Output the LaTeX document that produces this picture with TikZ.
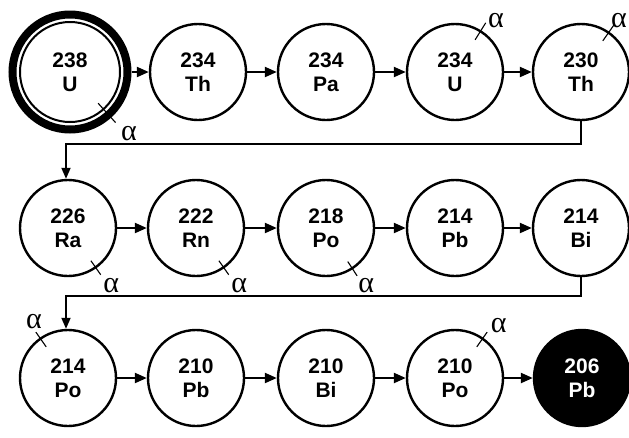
\documentclass[tikz,border=0pt]{standalone}
\usepackage{fontspec}
\setmainfont{Liberation Sans}
\newfontfamily\alphafont{Liberation Serif}
\usetikzlibrary{arrows.meta,calc}
\tikzset{
  nuc/.style={circle, draw, line width=2.4pt, minimum size=96pt, inner sep=0pt, align=center,
    font=\bfseries\fontsize{21}{24}\selectfont},
  endnuc/.style={nuc, fill=black, text=white},
  decay/.style={-{Triangle[length=12pt,width=10pt]}, line width=2.2pt},
  link/.style={-{Triangle[length=11pt,width=9pt]}, line width=1.8pt},
  tickmark/.style={line width=1.1pt},
  alab/.style={font=\alphafont\fontsize{30}{30}\selectfont, inner sep=0pt}
}
\begin{document}
\begin{tikzpicture}[x=1pt,y=-1pt]
\useasboundingbox (0,0) rectangle (629,437);
% row 1
\node[nuc, minimum size=100pt, line width=2pt] (u238) at (70,72) {238\\U};
\node[circle, draw, line width=8pt, minimum size=115pt, inner sep=0pt] (u238ring) at (u238) {};
\node[nuc] (th234) at (198,72) {234\\Th};
\node[nuc] (pa234) at (326,72) {234\\Pa};
\node[nuc] (u234) at (455,72) {234\\U};
\node[nuc] (th230) at (581,72) {230\\Th};
% row 2
\node[nuc] (ra226) at (68,228) {226\\Ra};
\node[nuc] (rn222) at (196,228) {222\\Rn};
\node[nuc] (po218) at (326,228) {218\\Po};
\node[nuc] (pb214) at (455,228) {214\\Pb};
\node[nuc] (bi214) at (581,228) {214\\Bi};
% row 3
\node[nuc] (po214) at (68,378) {214\\Po};
\node[nuc] (pb210) at (196,378) {210\\Pb};
\node[nuc] (bi210) at (326,378) {210\\Bi};
\node[nuc] (po210) at (455,378) {210\\Po};
\node[endnuc] (pb206) at (582,378) {206\\Pb};
% decay arrows
\draw[decay] (u238ring.east) -- (th234.west);
\draw[decay] (th234.east) -- (pa234.west);
\draw[decay] (pa234.east) -- (u234.west);
\draw[decay] (u234.east) -- (th230.west);
\draw[decay] (ra226.east) -- (rn222.west);
\draw[decay] (rn222.east) -- (po218.west);
\draw[decay] (po218.east) -- (pb214.west);
\draw[decay] (pb214.east) -- (bi214.west);
\draw[decay] (po214.east) -- (pb210.west);
\draw[decay] (pb210.east) -- (bi210.west);
\draw[decay] (bi210.east) -- (po210.west);
\draw[decay] (po210.east) -- (pb206.west);
% row links
\coordinate (j1a) at (581,144);
\coordinate (j1b) at (66,144);
\draw[link] (th230.south) -- (j1a) -- (j1b) -- (j1b |- ra226.north);
\coordinate (j2a) at (581,296);
\coordinate (j2b) at (66,296);
\draw[link] (bi214.south) -- (j2a) -- (j2b) -- (j2b |- po214.north);
% alpha marks
\draw[tickmark] ($(u238)+(-48:42pt)$) -- ($(u238)+(-48:68pt)$);
\node[alab] (a1) at ($(u238)+(-46:85pt)$) {α};
\draw[tickmark] ($(u234)+(58:38pt)$) -- ($(u234)+(58:58pt)$);
\node[alab] (a2) at (496,21) {α};
\draw[tickmark] ($(th230)+(55:38pt)$) -- ($(th230)+(55:58pt)$);
\node[alab] (a3) at (619,21) {α};
\draw[tickmark] ($(ra226)+(-55:40pt)$) -- ($(ra226)+(-55:57pt)$);
\node[alab] (a4) at ($(ra226)+(-53:72pt)$) {α};
\draw[tickmark] ($(rn222)+(-55:40pt)$) -- ($(rn222)+(-55:57pt)$);
\node[alab] (a5) at ($(rn222)+(-53:72pt)$) {α};
\draw[tickmark] ($(po218)+(-57:40pt)$) -- ($(po218)+(-57:57pt)$);
\node[alab] (a6) at ($(po218)+(-55:70pt)$) {α};
\draw[tickmark] ($(po214)+(125:38pt)$) -- ($(po214)+(125:56pt)$);
\node[alab] (a7) at ($(po214)+(121:66pt)$) {α};
\draw[tickmark] ($(po210)+(55:38pt)$) -- ($(po210)+(55:56pt)$);
\node[alab] (a8) at ($(po210)+(50:68pt)$) {α};
\end{tikzpicture}
\end{document}
